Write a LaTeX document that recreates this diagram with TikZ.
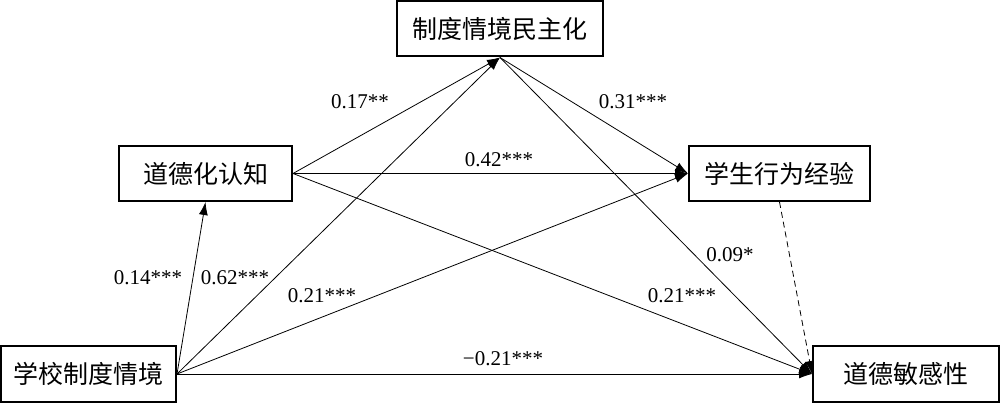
\documentclass[tikz,border=0pt]{standalone}
\usepackage{fontspec}
\setmainfont{Liberation Serif}
\newfontfamily\cjk{Noto Sans CJK SC}
\usetikzlibrary{arrows.meta}
\begin{document}
\begin{tikzpicture}[x=1pt,y=-1pt,
  box/.style={draw, line width=2pt, minimum height=55pt, inner sep=0pt, font=\cjk\fontsize{25}{25}\selectfont},
  conn/.style={line width=0.8pt, -{Latex[length=13pt,width=9pt]}},
  lab/.style={font=\fontsize{21}{21}\selectfont, inner sep=0pt}]
\useasboundingbox (0,0) rectangle (1000,403);
\node[box, minimum width=206pt] (top) at (500,29) {制度情境民主化};
\node[box, minimum width=173pt] (ddrz) at (205.5,173.5) {道德化认知};
\node[box, minimum width=181pt] (xsxw) at (779.5,173.5) {学生行为经验};
\node[box, minimum width=175pt, minimum height=56pt] (xxzd) at (88.5,374) {学校制度情境};
\node[box, minimum width=186pt, minimum height=56pt] (ddmg) at (906,374) {道德敏感性};

\draw[conn] (xxzd.east) -- (ddrz.south);
\draw[conn] (xxzd.east) -- (top.south);
\draw[conn] (xxzd.east) -- (xsxw.west);
\draw[conn] (xxzd.east) -- (ddmg.west);
\draw[conn] (ddrz.east) -- (top.south);
\draw[conn] (ddrz.east) -- (xsxw.west);
\draw[conn] (ddrz.east) -- (ddmg.west);
\draw[conn] (top.south) -- (xsxw.west);
\draw[conn] (top.south) -- (ddmg.west);
\draw[conn, dashed, dash pattern=on 6pt off 4pt] (xsxw.south) -- (ddmg.west);

\node[lab] (l1) at (360,102) {0.17**};
\node[lab] (l2) at (633,102) {0.31***};
\node[lab] (l3) at (499,160) {0.42***};
\node[lab] (l4) at (148,278) {0.14***};
\node[lab] (l5) at (235,278) {0.62***};
\node[lab] (l6) at (322,296) {0.21***};
\node[lab] (l7) at (503,359) {−0.21***};
\node[lab] (l8) at (730,255) {0.09*};
\node[lab] (l9) at (682,296) {0.21***};
\end{tikzpicture}
\end{document}
